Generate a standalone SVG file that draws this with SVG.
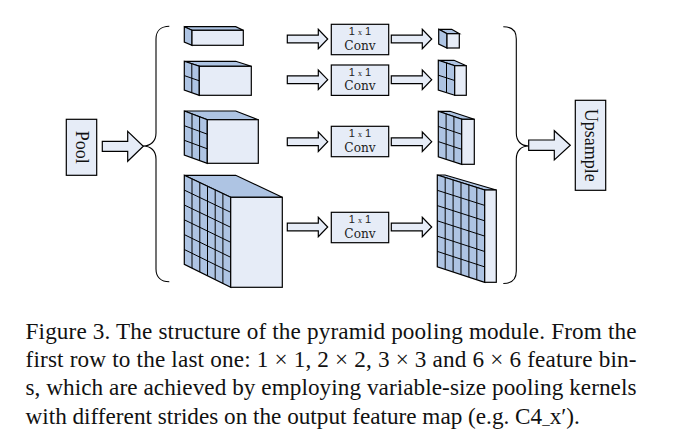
<svg xmlns="http://www.w3.org/2000/svg" xmlns:xlink="http://www.w3.org/1999/xlink" width="681" height="442" viewBox="0 0 681 442">
<style>
.f{fill:#E6ECF7;stroke:#000;stroke-width:1.2;stroke-linejoin:miter}
.s{fill:#AEC4E3;stroke:#000;stroke-width:1.2;stroke-linejoin:miter}
.g{fill:none;stroke:#000;stroke-width:1}
.b{fill:none;stroke:#000;stroke-width:1.1}
.c{font-family:"DejaVu Serif Condensed","DejaVu Serif","Liberation Serif",serif;font-size:13.5px;fill:#222;text-anchor:middle}
.n{font-family:"Liberation Sans",Arial,sans-serif;font-size:11px;fill:#222;text-anchor:middle}
.v{font-family:"Liberation Serif","Times New Roman",serif;font-size:18px;fill:#111;text-anchor:middle}
.t{font-family:"Liberation Serif","Times New Roman",serif;font-size:23.2px;fill:#111}
</style>
<defs>
<path id="arrow" class="f" d="M0,-3.9H31V-9.7L40.4,0L31,9.7V3.9H0Z"/>
<g id="conv">
<rect class="f" x="0" y="0" width="57.4" height="30.4"/>
<text class="n" x="28.7" y="10.5">1 <tspan font-size="8" font-family="Liberation Serif, serif">x</tspan> 1</text>
<text class="c" x="28.7" y="25.3">Conv</text>
</g>
</defs>
<rect width="681" height="442" fill="#fff"/>

<g id="connectors">
<path class="b" d="M169.3,26.3C161,26.3 156,31 156,39V133C156,141 151,146 143,146C151,146 156,151 156,159V269C156,277 161,281.7 169.3,281.7"/>
<path class="b" d="M503.3,26.7C511.5,26.7 516.3,31 516.3,39V133C516.3,141 521,146 528.7,146C521,146 516.3,151 516.3,159V271C516.3,279 511.5,283.5 503.3,283.5"/>
<path class="f" d="M102.3,141.3H127.7V131.3L143.3,146.3L127.7,161.3V151.3H102.3Z"/>
<path class="f" d="M528.7,140H554.3V130.7L570.3,145.3L554.3,160V150.3H528.7Z"/>
<use xlink:href="#arrow" href="#arrow" x="287.3" y="39"/>
<use xlink:href="#arrow" href="#arrow" x="391.3" y="39"/>
<use xlink:href="#arrow" href="#arrow" x="287.3" y="79.7"/>
<use xlink:href="#arrow" href="#arrow" x="391.3" y="79.7"/>
<use xlink:href="#arrow" href="#arrow" x="287.3" y="141.7"/>
<use xlink:href="#arrow" href="#arrow" x="391.3" y="141.7"/>
<use xlink:href="#arrow" href="#arrow" x="287.3" y="227"/>
<use xlink:href="#arrow" href="#arrow" x="391.3" y="227"/>
</g>

<g id="pool">
<rect class="f" x="66.3" y="119.3" width="30.4" height="56"/>
<text class="v" transform="translate(76,147.3) rotate(90)">Pool</text>
</g>
<g id="upsample">
<rect class="f" x="575.3" y="100.3" width="30.4" height="90"/>
<text class="v" transform="translate(584.5,145.3) rotate(90)">Upsample</text>
</g>

<g id="input-1">
<path class="s" d="M184.3,26.7H235.7L243.3,30.3H192Z"/>
<path class="s" d="M184.3,26.7L192,30.3V45.3L184.3,42Z"/>
<rect class="f" x="192" y="30.3" width="51.3" height="15"/>
</g>
<g id="input-2">
<path class="s" d="M184.3,61.3H235.7L251.3,66.3H199.3Z"/>
<path class="s" d="M184.3,61.3L199.3,66.3V95.3L184.3,90Z"/>
<rect class="f" x="199.3" y="66.3" width="52" height="29"/>
<path class="g" d="M191.8,63.8V92.7M184.3,75.6L199.3,80.8"/>
</g>
<g id="input-3">
<path class="s" d="M184.3,111H235.7L258.3,119.7H207.3Z"/>
<path class="s" d="M184.3,111L207.3,119.7V163.3L184.3,155Z"/>
<rect class="f" x="207.3" y="119.7" width="51" height="43.6"/>
<path class="g" d="M192,113.9V157.8M199.6,116.8V160.5M184.3,125.7L207.3,134.2M184.3,140.3L207.3,148.8"/>
</g>
<g id="input-4">
<path class="s" d="M184.3,175.3H235.7L282.3,197.3H230.7Z"/>
<path class="s" d="M184.3,175.3L230.7,197.3V287.3L184.3,264.3Z"/>
<rect class="f" x="230.7" y="197.3" width="51.6" height="90"/>
<path class="g" d="M192,179V268.1M199.8,182.6V272M207.5,186.3V275.8M215.2,190V279.6M222.9,193.6V283.5M184.3,190.1L230.7,212.3M184.3,205L230.7,227.3M184.3,219.8L230.7,242.3M184.3,234.6L230.7,257.3M184.3,249.5L230.7,272.3"/>
</g>

<use id="conv-1" xlink:href="#conv" href="#conv" x="331.3" y="24.3"/>
<use id="conv-2" xlink:href="#conv" href="#conv" x="331.3" y="65"/>
<use id="conv-3" xlink:href="#conv" href="#conv" x="331.3" y="126.3"/>
<use id="conv-4" xlink:href="#conv" href="#conv" x="331.3" y="212.3"/>

<g id="output-1">
<path class="s" d="M438.7,29.3H451.7L459.3,33.7H447Z"/>
<path class="s" d="M438.7,29.3L447,33.7V48L438.7,44Z"/>
<rect class="f" x="447" y="33.7" width="12.3" height="14.3"/>
</g>
<g id="output-2">
<path class="s" d="M438.3,60.3H454L466.3,65.7H454.7Z"/>
<path class="s" d="M438.3,60.3L454.7,65.7V95.3L438.3,90Z"/>
<rect class="f" x="454.7" y="65.7" width="11.6" height="29.6"/>
<path class="g" d="M446.5,63V92.7M438.3,75.2L454.7,80.5"/>
</g>
<g id="output-3">
<path class="s" d="M438.3,111.3H450L474.3,119.3H461.7Z"/>
<path class="s" d="M438.3,111.3L461.7,119.3V164.3L438.3,156.7Z"/>
<rect class="f" x="461.7" y="119.3" width="12.6" height="45"/>
<path class="g" d="M446.1,114V159.2M453.9,116.6V161.8M438.3,126.4L461.7,134.3M438.3,141.6L461.7,149.3"/>
</g>
<g id="output-4">
<path class="s" d="M437.3,175H445L496.3,190H484.7Z"/>
<path class="s" d="M437.3,175L484.7,190V282.3L437.3,266.7Z"/>
<rect class="f" x="484.7" y="190" width="11.6" height="92.3"/>
<path class="g" d="M445.2,177.5V269.3M453.1,180V271.9M461,182.5V274.5M468.9,185V277.1M476.8,187.5V279.7M437.3,190.3L484.7,205.4M437.3,205.6L484.7,220.8M437.3,220.8L484.7,236.1M437.3,236.1L484.7,251.5M437.3,251.4L484.7,266.9"/>
</g>

<g id="caption">
<text class="t" x="25.5" y="339" textLength="611" lengthAdjust="spacing">Figure 3. The structure of the pyramid pooling module. From the</text>
<text class="t" x="25.5" y="367" textLength="611" lengthAdjust="spacing">first row to the last one: 1 × 1, 2 × 2, 3 × 3 and 6 × 6 feature bin-</text>
<text class="t" x="25.5" y="395" textLength="611" lengthAdjust="spacing">s, which are achieved by employing variable-size pooling kernels</text>
<text class="t" x="25.5" y="423.5">with different strides on the output feature map (e.g. C4<tspan font-size="15">_</tspan>x′).</text>
</g>
</svg>
